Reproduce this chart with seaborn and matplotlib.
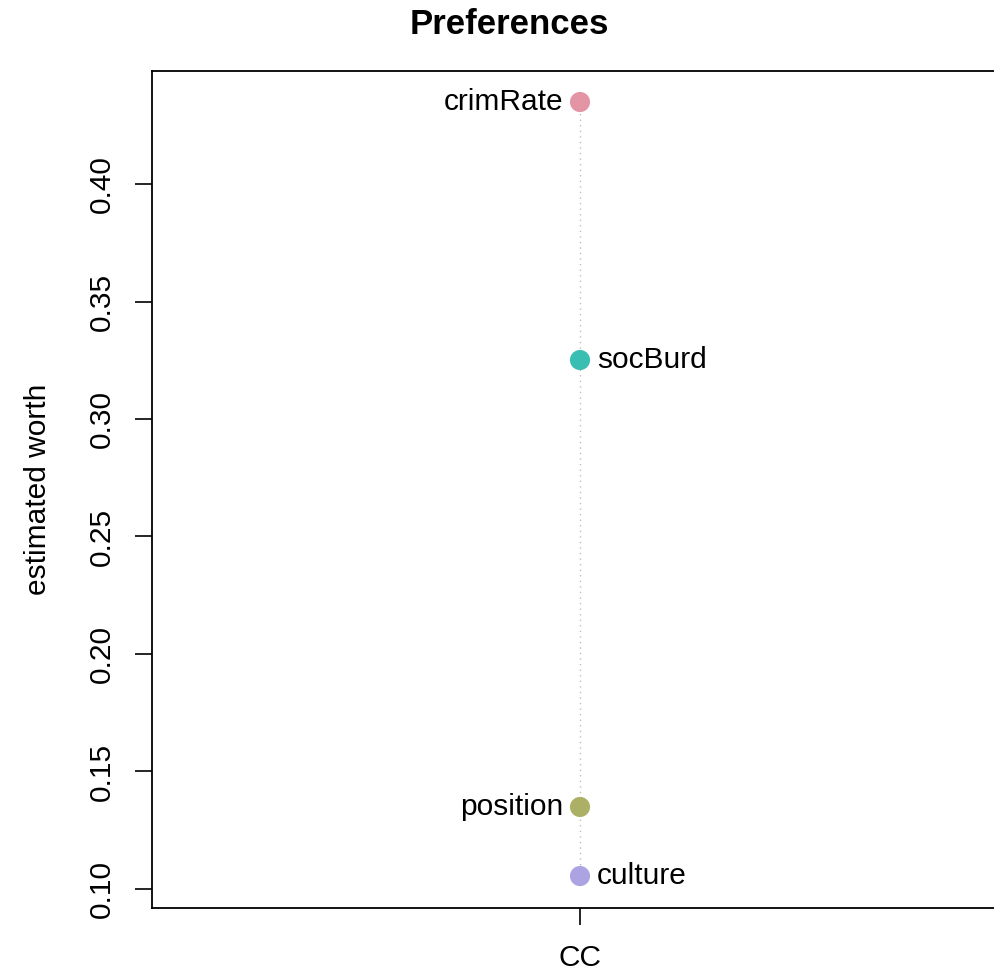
import matplotlib
matplotlib.use("Agg")
import numpy as np
import pandas as pd
import matplotlib.pyplot as plt
import seaborn as sns

# estimated worth per item
items = ["crimRate", "socBurd", "position", "culture"]
worth = [0.4349, 0.3251, 0.1349, 0.1055]
group = ["CC", "CC", "CC", "CC"]
colors = ["#E495A5", "#39BEB1", "#ABB065", "#ACA4E2"]
yticks = [0.10, 0.15, 0.20, 0.25, 0.30, 0.35, 0.40]

sns.set_style("ticks")
plt.rcParams["font.family"] = ["Liberation Sans", "DejaVu Sans"]
plt.rcParams["text.color"] = "black"
plt.rcParams["axes.labelcolor"] = "black"
FS = 21.5

df = pd.DataFrame({"item": items, "worth": worth, "group": group})

fig = plt.figure(figsize=(9.95, 9.77), dpi=100)
ax = fig.add_axes([152 / 995, 1 - 908 / 977, (1008 - 152) / 995, (908 - 71) / 977])

# dotted connector between lowest and highest item
ax.vlines(0, min(worth), max(worth), colors="#BEBEBE", linestyles=(0, (1, 3)),
          linewidth=1.0, zorder=1)
sns.scatterplot(data=df, x=np.zeros(len(df)), y="worth", hue="item",
                palette=dict(zip(items, colors)), s=210, edgecolor="none",
                legend=False, ax=ax, zorder=3)

# labels alternate left / right, highest first
order = df.sort_values("worth", ascending=False).reset_index(drop=True)
for i, row in order.iterrows():
    left = i % 2 == 0
    ax.annotate(row["item"], (0, row["worth"]), xytext=(-12 if left else 12, 0),
                textcoords="offset points", ha="right" if left else "left",
                va="center", fontsize=FS, color="black")

ax.set_xlim(-1, 1)
ax.set_ylim(0.0919, 0.4481)
ax.set_xticks([0])
ax.set_xticklabels(["CC"], fontsize=FS, color="black")
ax.set_yticks(yticks)
ax.set_yticklabels([f"{v:.2f}" for v in yticks], fontsize=FS, rotation=90,
                   va="center", color="black")
ax.tick_params(axis="both", length=12, width=1.2, colors="black", pad=14)
ax.set_xlabel("")
ax.set_ylabel("estimated worth", fontsize=FS, labelpad=26, color="black")
for sp in ax.spines.values():
    sp.set_visible(True)
    sp.set_linewidth(1.3)
    sp.set_color("black")

fig.text(509.5 / 995, 1 - 25 / 977, "Preferences", ha="center", va="center",
         fontsize=25, fontweight="bold", color="black")

fig.savefig("out.png", dpi=100)
